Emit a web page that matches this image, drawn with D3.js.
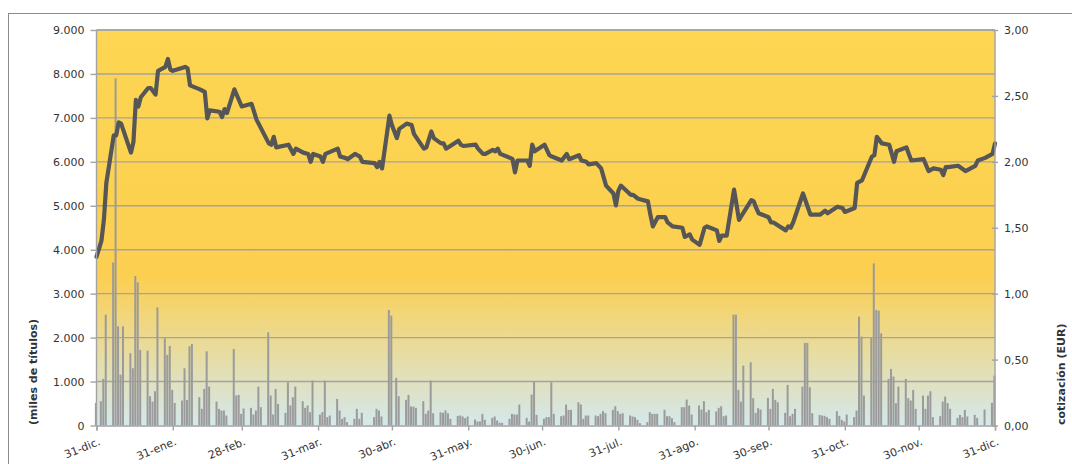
<!DOCTYPE html>
<html>
<head>
<meta charset="utf-8">
<script src="https://cdn.jsdelivr.net/npm/d3@7"></script>
<style>
  body { margin: 0; background: #fff; }
  svg { display: block; }
  text { font-family: "DejaVu Sans", Verdana, sans-serif; fill: #333; }
</style>
</head>
<body>
<svg id="chart" width="1072" height="464"></svg>
<script>
// trading volume (miles de títulos), one value per weekday, Dec 31 2012 -> Dec 31 2013
const volume = [
  515, 0, 553, 1060, 2523,          // 31-dic
  3712, 7900, 2258, 1159, 2258,     // 7-ene
  1644, 1303, 3401, 3258, 1720,
  1705, 667, 545, 780, 2689,
  1985, 1606, 1810, 810, 515,
  568, 1303, 583, 1803, 1856,       // 4-feb
  644, 379, 833, 1689, 886,
  545, 379, 341, 341, 227,
  1742, 682, 697, 265, 386,
  402, 250, 341, 886, 417,          // 4-mar
  2121, 682, 250, 833, 492,
  288, 985, 455, 644, 886,
  553, 402, 455, 303, 1023,
  250, 303, 1023, 190, 227,         // 1-abr
  606, 341, 152, 190, 76,
  152, 379, 152, 288, 0,
  0, 190, 379, 341, 205,
  2629, 2500, 0, 1083, 667,
  583, 697, 432, 432, 402,          // 6-may
  553, 265, 341, 1023, 280,
  303, 288, 341, 280, 152,
  220, 227, 205, 167, 205,
  136, 91, 91, 265, 129,            // 3-jun
  174, 205, 114, 61, 61,
  152, 265, 250, 250, 477,
  174, 91, 705, 1008, 242,
  152, 190, 190, 985, 265,          // 1-jul
  212, 227, 477, 356, 356,
  530, 477, 152, 227, 227,
  227, 212, 265, 326, 280,
  356, 439, 326, 265, 280,
  227, 205, 190, 129, 53,           // 5-ago
  76, 303, 265, 265, 265,
  356, 212, 212, 167, 76,
  417, 417, 591, 455, 250,
  455, 364, 553, 303, 356,          // 2-sep
  318, 402, 439, 212, 227,
  2523, 2523, 810, 545, 1364,
  1439, 621, 288, 394, 364,
  629, 379, 833, 583, 530,
  288, 924, 212, 265, 379,          // 7-oct
  886, 1879, 1879, 871, 280,
  242, 227, 220, 190, 152,
  326, 220, 129, 91, 250,
  190, 341, 2477, 2023, 682,        // 4-nov
  1992, 3689, 2629, 2614, 2098,
  1061, 1288, 1114, 508, 886,
  1061, 621, 568, 811, 379,
  682, 379, 682, 780, 190,          // 2-dic
  212, 545, 659, 508, 379,
  174, 242, 190, 356, 205,
  242, 174, 0, 0, 364,
  515, 1136
];

// share price (EUR)
const price = [
  ["2012-12-31", 1.28], ["2013-01-02", 1.40], ["2013-01-03", 1.56], ["2013-01-04", 1.84],
  ["2013-01-07", 2.20], ["2013-01-08", 2.20], ["2013-01-09", 2.30], ["2013-01-10", 2.29],
  ["2013-01-14", 2.07], ["2013-01-15", 2.15], ["2013-01-16", 2.47], ["2013-01-17", 2.42],
  ["2013-01-18", 2.49], ["2013-01-21", 2.56], ["2013-01-22", 2.56], ["2013-01-24", 2.51],
  ["2013-01-25", 2.69], ["2013-01-28", 2.72], ["2013-01-29", 2.78], ["2013-01-30", 2.70],
  ["2013-01-31", 2.69], ["2013-02-05", 2.72], ["2013-02-06", 2.71], ["2013-02-07", 2.58],
  ["2013-02-11", 2.55], ["2013-02-13", 2.53], ["2013-02-14", 2.33], ["2013-02-15", 2.39],
  ["2013-02-19", 2.38], ["2013-02-20", 2.34], ["2013-02-21", 2.40], ["2013-02-22", 2.37],
  ["2013-02-25", 2.55], ["2013-02-28", 2.42], ["2013-03-04", 2.44], ["2013-03-06", 2.32],
  ["2013-03-11", 2.14], ["2013-03-12", 2.13], ["2013-03-13", 2.19], ["2013-03-14", 2.11],
  ["2013-03-19", 2.13], ["2013-03-21", 2.06], ["2013-03-22", 2.10], ["2013-03-25", 2.07],
  ["2013-03-27", 2.06], ["2013-03-28", 2.00], ["2013-03-29", 2.06], ["2013-04-01", 2.04],
  ["2013-04-02", 2.00], ["2013-04-03", 2.06], ["2013-04-08", 2.10], ["2013-04-09", 2.04],
  ["2013-04-11", 2.03], ["2013-04-12", 2.02], ["2013-04-15", 2.06], ["2013-04-17", 2.04],
  ["2013-04-18", 2.00], ["2013-04-23", 1.99], ["2013-04-24", 1.96], ["2013-04-25", 2.00],
  ["2013-04-26", 1.95], ["2013-04-29", 2.35], ["2013-04-30", 2.28], ["2013-05-02", 2.18],
  ["2013-05-03", 2.25], ["2013-05-06", 2.29], ["2013-05-08", 2.28], ["2013-05-09", 2.21],
  ["2013-05-13", 2.10], ["2013-05-14", 2.11], ["2013-05-16", 2.23], ["2013-05-17", 2.18],
  ["2013-05-20", 2.14], ["2013-05-21", 2.14], ["2013-05-22", 2.10], ["2013-05-27", 2.16],
  ["2013-05-28", 2.13], ["2013-05-29", 2.12], ["2013-06-03", 2.13], ["2013-06-04", 2.10],
  ["2013-06-06", 2.06], ["2013-06-07", 2.06], ["2013-06-10", 2.09], ["2013-06-11", 2.08],
  ["2013-06-12", 2.10], ["2013-06-13", 2.06], ["2013-06-17", 2.03], ["2013-06-18", 2.02],
  ["2013-06-19", 1.92], ["2013-06-20", 2.01], ["2013-06-24", 2.01], ["2013-06-25", 1.97],
  ["2013-06-26", 2.13], ["2013-06-27", 2.08], ["2013-07-01", 2.13], ["2013-07-03", 2.05],
  ["2013-07-04", 2.04], ["2013-07-08", 2.01], ["2013-07-10", 2.06], ["2013-07-11", 2.02],
  ["2013-07-15", 2.05], ["2013-07-16", 2.01], ["2013-07-18", 2.00], ["2013-07-19", 1.98],
  ["2013-07-22", 1.99], ["2013-07-24", 1.95], ["2013-07-26", 1.82], ["2013-07-29", 1.76],
  ["2013-07-30", 1.67], ["2013-07-31", 1.78], ["2013-08-01", 1.82], ["2013-08-05", 1.75],
  ["2013-08-06", 1.75], ["2013-08-08", 1.72], ["2013-08-12", 1.70], ["2013-08-13", 1.60],
  ["2013-08-14", 1.51], ["2013-08-16", 1.58], ["2013-08-19", 1.58], ["2013-08-20", 1.54],
  ["2013-08-22", 1.51], ["2013-08-26", 1.50], ["2013-08-27", 1.43], ["2013-08-29", 1.45],
  ["2013-08-30", 1.41], ["2013-09-02", 1.37], ["2013-09-04", 1.50], ["2013-09-05", 1.51],
  ["2013-09-09", 1.48], ["2013-09-10", 1.40], ["2013-09-11", 1.44], ["2013-09-13", 1.44],
  ["2013-09-16", 1.79], ["2013-09-18", 1.56], ["2013-09-23", 1.71], ["2013-09-24", 1.70],
  ["2013-09-25", 1.65], ["2013-09-26", 1.61], ["2013-09-30", 1.58], ["2013-10-01", 1.54],
  ["2013-10-02", 1.54], ["2013-10-07", 1.48], ["2013-10-08", 1.51], ["2013-10-09", 1.50],
  ["2013-10-10", 1.54], ["2013-10-14", 1.76], ["2013-10-17", 1.60], ["2013-10-21", 1.60],
  ["2013-10-23", 1.63], ["2013-10-24", 1.61], ["2013-10-28", 1.66], ["2013-10-30", 1.65],
  ["2013-10-31", 1.62], ["2013-11-04", 1.65], ["2013-11-05", 1.84], ["2013-11-07", 1.86],
  ["2013-11-11", 2.04], ["2013-11-12", 2.05], ["2013-11-13", 2.19], ["2013-11-15", 2.14],
  ["2013-11-18", 2.13], ["2013-11-20", 2.00], ["2013-11-21", 2.08], ["2013-11-25", 2.11],
  ["2013-11-26", 2.06], ["2013-11-27", 2.01], ["2013-12-02", 2.02], ["2013-12-04", 1.93],
  ["2013-12-06", 1.95], ["2013-12-09", 1.94], ["2013-12-10", 1.90], ["2013-12-11", 1.96],
  ["2013-12-12", 1.96], ["2013-12-16", 1.97], ["2013-12-19", 1.93], ["2013-12-23", 1.97],
  ["2013-12-24", 2.01], ["2013-12-27", 2.03], ["2013-12-30", 2.06], ["2013-12-31", 2.14]
];

const tickDates = ["2012-12-31", "2013-01-31", "2013-02-28", "2013-03-31", "2013-04-30", "2013-05-31",
  "2013-06-30", "2013-07-31", "2013-08-31", "2013-09-30", "2013-10-31", "2013-11-30", "2013-12-31"];
const tickLabels = ["31-dic.", "31-ene.", "28-feb.", "31-mar.", "30-abr.", "31-may.",
  "30-jun.", "31-jul.", "31-ago.", "30-sep.", "31-oct.", "30-nov.", "31-dic."];
const volumeTicks = [0, 1000, 2000, 3000, 4000, 5000, 6000, 7000, 8000, 9000];
const priceTicks = [0, 0.5, 1, 1.5, 2, 2.5, 3];

const svg = d3.select("#chart");
const margin = { top: 30, right: 77, bottom: 38.5, left: 96.5 };
const width = 1072, height = 464;
const parse = d3.utcParse("%Y-%m-%d");
const es = d3.formatLocale({ decimal: ",", thousands: ".", grouping: [3], currency: ["", " €"] });

// weekdays from first to last date
const days = [];
for (let t = parse("2012-12-31"); t <= parse("2013-12-31"); t = d3.utcDay.offset(t, 1)) {
  if (t.getUTCDay() !== 0 && t.getUTCDay() !== 6) days.push(t);
}
const bars = days.map((d, i) => ({ date: d, v: volume[i] })).filter(d => d.v > 0);

const x = d3.scaleUtc()
  .domain([parse("2012-12-31"), parse("2013-12-31")])
  .range([margin.left, width - margin.right]);
const y = d3.scaleLinear().domain([0, 9000]).range([height - margin.bottom, margin.top]);
const y2 = d3.scaleLinear().domain([0, 3]).range([height - margin.bottom, margin.top]);

// outer frame
svg.append("rect")
  .attr("x", 8.5).attr("y", 13.5)
  .attr("width", 1100).attr("height", 500)
  .attr("fill", "none").attr("stroke", "#8c8c8c");

// plot background gradient
const grad = svg.append("defs").append("linearGradient")
  .attr("id", "bg").attr("x1", 0).attr("y1", 0).attr("x2", 0).attr("y2", 1);
grad.append("stop").attr("offset", "0%").attr("stop-color", "#fdd652");
grad.append("stop").attr("offset", "62%").attr("stop-color", "#fccf50");
grad.append("stop").attr("offset", "100%").attr("stop-color", "#d4e8ec");

svg.append("rect")
  .attr("x", margin.left).attr("y", margin.top)
  .attr("width", width - margin.left - margin.right)
  .attr("height", height - margin.top - margin.bottom)
  .attr("fill", "url(#bg)");

// gridlines
svg.append("g")
  .selectAll("line")
  .data(volumeTicks.slice(1))
  .enter().append("line")
  .attr("x1", margin.left).attr("x2", width - margin.right)
  .attr("y1", d => y(d)).attr("y2", d => y(d))
  .attr("stroke", "#a3a3a3").attr("stroke-width", 1.4);

// volume bars
svg.append("g")
  .selectAll("rect")
  .data(bars)
  .enter().append("rect")
  .attr("x", d => x(d.date) - 1.6)
  .attr("y", d => y(d.v))
  .attr("width", 2)
  .attr("height", d => y(0) - y(d.v))
  .attr("fill", "#9b9b9b");

// price line
const line = d3.line()
  .x(d => x(parse(d[0])))
  .y(d => y2(d[1]));

svg.append("path")
  .datum(price)
  .attr("d", line)
  .attr("fill", "none")
  .attr("stroke", "#565656")
  .attr("stroke-width", 4.2)
  .attr("stroke-linejoin", "round")
  .attr("stroke-linecap", "round");

// axes
const leftAxis = svg.append("g")
  .attr("transform", `translate(${margin.left},0)`)
  .call(d3.axisLeft(y).tickValues(volumeTicks).tickSize(6).tickPadding(6).tickFormat(es.format(",.0f")));

const rightAxis = svg.append("g")
  .attr("transform", `translate(${width - margin.right},0)`)
  .call(d3.axisRight(y2).tickValues(priceTicks).tickSize(3).tickPadding(6).tickFormat(es.format(".2f")));
rightAxis.selectAll(".tick line").attr("x1", -3);

const bottomAxis = svg.append("g")
  .attr("transform", `translate(0,${height - margin.bottom})`)
  .call(d3.axisBottom(x).tickValues(tickDates.map(parse)).tickSize(5).tickFormat((d, i) => tickLabels[i]));

[leftAxis, rightAxis, bottomAxis].forEach(g => {
  g.select(".domain").attr("stroke", "#a3a3a3").attr("stroke-width", 1.4);
  g.selectAll(".tick line").attr("stroke", "#a3a3a3").attr("stroke-width", 1.4);
  g.selectAll("text").attr("font-size", "11px").attr("fill", "#333");
});
leftAxis.select(".domain").remove();
rightAxis.select(".domain").remove();

svg.append("line")
  .attr("x1", margin.left).attr("x2", margin.left)
  .attr("y1", margin.top).attr("y2", height - margin.bottom)
  .attr("stroke", "#a3a3a3").attr("stroke-width", 1.4);
svg.append("line")
  .attr("x1", width - margin.right).attr("x2", width - margin.right)
  .attr("y1", margin.top).attr("y2", height - margin.bottom)
  .attr("stroke", "#a3a3a3").attr("stroke-width", 1.4);
svg.append("line")
  .attr("x1", margin.left).attr("x2", width - margin.right)
  .attr("y1", margin.top).attr("y2", margin.top)
  .attr("stroke", "#a3a3a3").attr("stroke-width", 1.4);

bottomAxis.selectAll("text")
  .attr("text-anchor", "end")
  .attr("dy", null)
  .attr("y", 0)
  .attr("transform", "translate(4,19) rotate(-22)");

// axis titles
svg.append("text")
  .attr("transform", "translate(37,425) rotate(-90)")
  .attr("text-anchor", "start")
  .attr("font-size", "11px")
  .attr("font-weight", "bold")
  .text("(miles de títulos)");

svg.append("text")
  .attr("transform", "translate(1065,425) rotate(-90)")
  .attr("text-anchor", "start")
  .attr("font-size", "11px")
  .attr("font-weight", "bold")
  .text("cotización (EUR)");
</script>
</body>
</html>
